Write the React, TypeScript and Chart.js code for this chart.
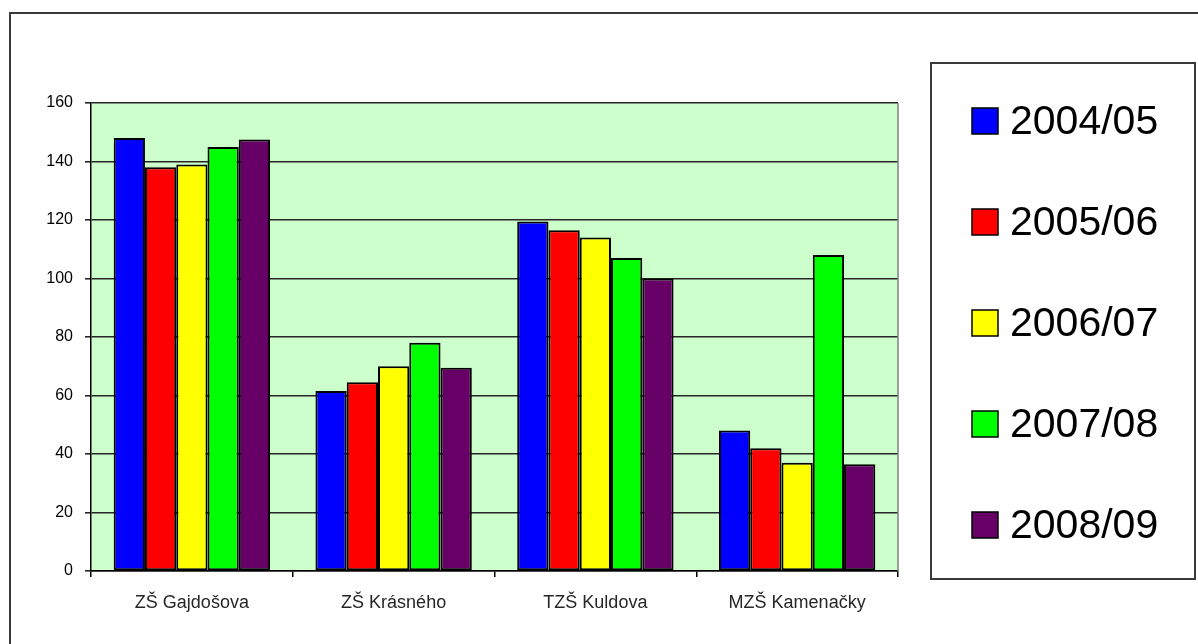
import React, { useEffect, useRef } from "react";
import { Chart, registerables } from "chart.js";

Chart.register(...registerables);

// ---- data ----
const categories = ["ZŠ Gajdošova", "ZŠ Krásného", "TZŠ Kuldova", "MZŠ Kamenačky"];
const seriesLabels = ["2004/05", "2005/06", "2006/07", "2007/08", "2008/09"];
const s2004 = [148, 61.5, 119.5, 48];
const s2005 = [138, 64.5, 116.5, 42];
const s2006 = [139, 70, 114, 37];
const s2007 = [145, 78, 107, 108];
const s2008 = [147.5, 69.5, 100, 36.5];
const seriesColors = ["#0000ff", "#ff0000", "#ffff00", "#00ff00", "#660066"];
const yMin = 0;
const yMax = 160;
const yStep = 20;

const FONT = "'Liberation Sans', Arial, sans-serif";

const decorPlugin = {
  id: "decor",
  beforeDraw(chart: any) {
    const { ctx, chartArea } = chart;
    ctx.save();
    ctx.fillStyle = "#ffffff";
    ctx.fillRect(0, 0, chart.width, chart.height);
    // outer frame (only left/top edges visible)
    ctx.strokeStyle = "#3a3a3a";
    ctx.lineWidth = 2;
    ctx.strokeRect(10, 13, chart.width + 50, chart.height + 50);
    // plot area background
    ctx.fillStyle = "#ccffcc";
    ctx.fillRect(chartArea.left, chartArea.top, chartArea.right - chartArea.left, chartArea.bottom - chartArea.top);
    ctx.restore();
  },
  afterDraw(chart: any) {
    const { ctx, chartArea } = chart;
    ctx.save();
    // plot right border
    ctx.strokeStyle = "#808080";
    ctx.lineWidth = 1.5;
    ctx.beginPath();
    ctx.moveTo(chartArea.right, chartArea.top);
    ctx.lineTo(chartArea.right, chartArea.bottom);
    ctx.stroke();

    // legend box
    const lx = 931, ly = 63, lw = 264, lh = 516;
    ctx.fillStyle = "#ffffff";
    ctx.fillRect(lx, ly, lw, lh);
    ctx.strokeStyle = "#3a3a3a";
    ctx.lineWidth = 2;
    ctx.strokeRect(lx, ly, lw, lh);
    const ds = chart.data.datasets;
    const step = 101;
    const cy0 = ly + lh / 2 - (step * (ds.length - 1)) / 2 + 2;
    ctx.font = `41px ${FONT}`;
    ctx.textBaseline = "middle";
    ctx.textAlign = "left";
    ds.forEach((d: any, i: number) => {
      const cy = cy0 + i * step;
      ctx.fillStyle = d.backgroundColor;
      ctx.fillRect(972, cy - 13, 26, 26);
      ctx.strokeStyle = "#000";
      ctx.lineWidth = 1.5;
      ctx.strokeRect(972, cy - 13, 26, 26);
      ctx.fillStyle = "#000";
      ctx.fillText(d.label, 1010, cy + 2);
    });
    ctx.restore();
  },
};

export default function App() {
  const ref = useRef<HTMLCanvasElement | null>(null);

  useEffect(() => {
    if (!ref.current) return;
    const series = [s2004, s2005, s2006, s2007, s2008];
    const chart = new Chart(ref.current, {
      type: "bar",
      data: {
        labels: categories,
        datasets: series.map((vals, i) => ({
          label: seriesLabels[i],
          data: vals,
          backgroundColor: seriesColors[i],
          borderColor: "#000000",
          borderWidth: 2,
          borderSkipped: false,
          categoryPercentage: 0.775,
          barPercentage: 1,
        })),
      },
      options: {
        animation: false,
        responsive: true,
        maintainAspectRatio: false,
        layout: { padding: { left: 0, top: 103, right: 300, bottom: 0 } },
        plugins: {
          legend: { display: false },
          tooltip: { enabled: false },
        },
        scales: {
          x: {
            afterFit: (scale: any) => {
              scale.height = 73;
            },
            grid: {
              display: true,
              offset: true,
              drawOnChartArea: false,
              drawTicks: true,
              tickLength: 6,
              color: "#000000",
              lineWidth: 1.5,
            },
            border: { display: true, color: "#000000", width: 1.5 },
            ticks: {
              color: "#262626",
              font: { family: FONT, size: 18 },
              padding: 15,
              maxRotation: 0,
            },
          },
          y: {
            min: yMin,
            max: yMax,
            afterFit: (scale: any) => {
              scale.width = 91;
            },
            grid: {
              color: "#262626",
              lineWidth: 1.6,
              drawTicks: true,
              tickLength: 6,
            },
            border: { display: true, color: "#000000", width: 1.5 },
            ticks: {
              stepSize: yStep,
              color: "#000000",
              font: { family: FONT, size: 16 },
              padding: 12,
            },
          },
        },
      },
      plugins: [decorPlugin],
    });
    return () => chart.destroy();
  }, []);

  return (
    <div style={{ position: "fixed", left: 0, top: 0, width: 1198, height: 644, background: "#fff" }}>
      <canvas ref={ref} />
    </div>
  );
}
